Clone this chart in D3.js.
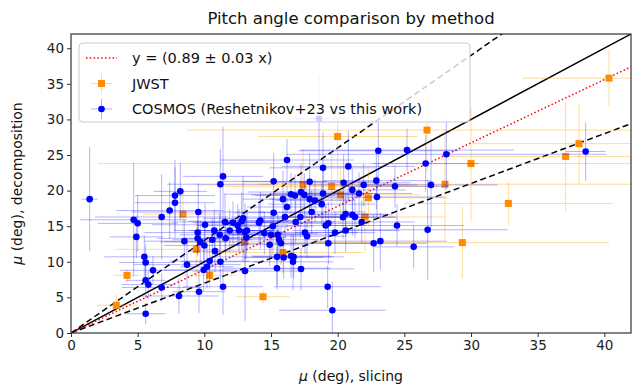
<!DOCTYPE html>
<html>
<head>
<meta charset="utf-8">
<script src="https://cdn.jsdelivr.net/npm/d3@7"></script>
<style>
  html, body { margin: 0; padding: 0; background: #fff; }
  svg { display: block; font-family: "DejaVu Sans", sans-serif; }
</style>
</head>
<body>
<svg id="chart" width="638" height="392"></svg>
<script>
// COSMOS sample: slicing vs decomposition pitch angles (deg) and their uncertainties
const cosmosX = [1.4, 4.7, 5.0, 4.9, 5.5, 5.6, 6.15, 5.6, 5.8, 5.6, 6.8, 8.1, 6.8, 7.4, 7.8, 7.8, 8.2, 8.5, 8.7, 9.55,
  9.5, 9.5, 9.6, 11.4, 11.2, 16.2, 15.2, 15.9, 16.5, 16.8, 17.25, 16.2, 16.05, 15.2, 16.85, 17.2, 11.55, 12.15, 12.5, 12.8,
  12.9, 12.6, 13.05, 13.2, 13.15, 14.1, 14.2, 14.5, 14.9, 15.15, 15.5, 15.6, 15.0, 15.75, 15.45, 15.95, 15.45, 16.5, 16.7, 16.65,
  17.25, 13.05, 11.2, 10.4, 10.2, 9.95, 10.05, 10.75, 10.6, 9.7, 10.0, 10.8, 11.15, 11.4, 11.9, 11.6, 23.05, 25.2, 20.8, 18.9,
  17.9, 20.45, 21.1, 21.95, 22.9, 21.6, 22.95, 24.3, 17.5, 18.9, 18.8, 18.3, 17.9, 18.05, 17.55, 17.7, 19.3, 19.1, 19.3, 19.8,
  20.4, 20.6, 20.6, 21.1, 21.3, 21.8, 22.7, 23.2, 24.45, 19.25, 19.6, 18.6, 28.15, 26.6, 27.0, 26.75, 25.7, 38.6];
const cosmosY = [18.8, 15.9, 15.4, 13.5, 10.7, 9.9, 8.8, 7.4, 6.8, 2.7, 6.4, 5.2, 16.3, 17.2, 18.3, 19.3, 19.9, 12.9, 9.6, 17.0,
  14.1, 13.3, 5.8, 22.0, 20.9, 24.3, 21.3, 18.8, 19.5, 19.3, 19.8, 17.7, 16.3, 16.9, 15.6, 16.3, 15.6, 15.5, 15.1, 15.7,
  16.1, 14.4, 14.2, 14.4, 13.4, 15.5, 15.8, 14.0, 12.4, 15.0, 13.8, 13.1, 13.8, 12.6, 10.7, 10.6, 9.1, 10.8, 10.7, 10.0,
  9.0, 8.7, 10.0, 10.1, 9.3, 8.85, 15.2, 14.4, 13.1, 12.8, 12.3, 11.5, 13.8, 6.5, 14.4, 13.3, 25.6, 25.7, 23.4, 23.2,
  21.25, 21.1, 20.1, 20.8, 21.4, 19.6, 19.1, 20.6, 19.4, 19.6, 18.1, 18.6, 18.8, 17.0, 14.1, 13.6, 12.6, 15.1, 15.4, 14.1,
  16.25, 16.7, 14.4, 16.6, 16.3, 15.6, 12.6, 12.9, 15.1, 6.5, 3.2, 30.1, 25.1, 23.8, 20.8, 14.5, 12.1, 25.5];
const cosmosXerr = [0.6, 4, 3, 2, 3, 2, 2.5, 1.5, 2, 1.5, 3, 3, 5, 4, 3, 3, 2, 3, 4, 5,
  4, 3, 2, 3, 4, 5, 4, 3, 5, 3, 4, 3, 4, 3, 3, 3, 4, 3, 3, 4,
  3, 3, 3, 2, 3, 4, 3, 4, 3, 3, 4, 3, 3, 3, 5, 3, 4, 3, 3, 3,
  4, 4, 3, 3, 2, 3, 4, 3, 3, 3, 3, 2, 3, 3, 3, 3, 6, 8, 5, 4,
  5, 5, 4, 4, 4, 4, 5, 4, 4, 4, 4, 3, 3, 4, 4, 3, 4, 3, 3, 3,
  4, 3, 4, 3, 3, 4, 4, 5, 5, 4, 4, 2, 12, 4, 5, 6, 3, 1.5];
const cosmosYerr = [7.3, 8, 4, 3, 3, 2.5, 2, 2.5, 2, 1.5, 2, 2.5, 6, 4, 5, 5, 4, 3, 3, 4,
  3, 2.5, 3, 7, 5, 3, 4, 4, 3, 3, 4, 3, 3, 3, 3, 3, 4, 3, 3, 4,
  6, 3, 4, 3, 3, 3, 4, 3, 3, 4, 3, 3, 3, 3, 4, 3, 3, 3, 3, 4,
  3, 7, 3, 3, 3, 3, 3, 3, 3, 3, 3, 3, 3, 4, 3, 3, 5, 3, 5, 5,
  4, 4, 3, 3, 4, 3, 3, 3, 3, 4, 3, 3, 3, 3, 3, 3, 3, 3, 3, 3,
  3, 3, 3, 3, 3, 3, 4, 4, 3, 3, 4, 6, 5, 4, 6, 7, 3, 4.1];

// JWST sample
const jwstX = [3.4, 4.2, 8.4, 9.4, 10.4, 13.05, 14.4, 15.9, 17.4, 20.0, 19.55, 20.2, 22.3, 22.05, 26.7, 30.0, 28.05, 32.8, 29.35, 40.35, 38.1, 37.1];
const jwstY = [3.9, 8.1, 16.7, 11.75, 8.1, 12.8, 5.1, 11.3, 20.8, 27.6, 20.6, 19.4, 19.0, 16.3, 28.5, 23.8, 20.9, 18.2, 12.7, 35.8, 26.6, 24.8];
const jwstXerr = [1.5, 1, 3, 6, 2, 6, 2, 6, 8, 6, 8, 6, 6, 6, 18, 28, 14, 7.8, 11, 6.5, 8, 9];
const jwstYerr = [1.5, 1, 3, 4, 2, 4, 1, 3, 5, 6, 5, 4, 4, 5, 6, 8, 7.7, 3, 5, 4, 5.7, 7.7];

// Reference slopes: one-to-one, ±30% band, and the fitted relation
const refSlopes = [1.0, 1.3, 0.7];
const fitSlope = 0.89;
const fitLabel = "y = (0.89 ± 0.03 x)";

const xTicks = [0, 5, 10, 15, 20, 25, 30, 35, 40];
const yTicks = [0, 5, 10, 15, 20, 25, 30, 35, 40];
const axisMax = 42;

const svg = d3.select("#chart");
const m = { left: 71, right: 631, top: 34, bottom: 333 };

const x = d3.scaleLinear().domain([0, axisMax]).range([m.left, m.right]);
const y = d3.scaleLinear().domain([0, axisMax]).range([m.bottom, m.top]);

svg.append("defs").append("clipPath").attr("id", "plotclip")
  .append("rect").attr("x", m.left).attr("y", m.top)
  .attr("width", m.right - m.left).attr("height", m.bottom - m.top);

const plot = svg.append("g").attr("clip-path", "url(#plotclip)");

// Reference lines
const line = d3.line().x(d => x(d[0])).y(d => y(d[1]));
refSlopes.forEach((s, i) => {
  plot.append("path")
    .attr("d", line([[0, 0], [axisMax, s * axisMax]]))
    .attr("fill", "none").attr("stroke", "#000").attr("stroke-width", 1.5)
    .attr("stroke-dasharray", i === 0 ? null : "6,3.5");
});
plot.append("path")
  .attr("d", line([[0, 0], [axisMax, fitSlope * axisMax]]))
  .attr("fill", "none").attr("stroke", "red").attr("stroke-width", 1.5)
  .attr("stroke-dasharray", "1.5,2.3");

// Error bars and markers for one sample
function drawSample(xs, ys, xe, ye, errColor, errOpacity, markerFn) {
  const g = plot.append("g");
  const eg = g.append("g").attr("stroke", errColor).attr("stroke-opacity", errOpacity).attr("stroke-width", 1);
  xs.forEach((xv, i) => {
    eg.append("line").attr("x1", x(xv - xe[i])).attr("x2", x(xv + xe[i]))
      .attr("y1", y(ys[i])).attr("y2", y(ys[i]));
    eg.append("line").attr("x1", x(xv)).attr("x2", x(xv))
      .attr("y1", y(ys[i] - ye[i])).attr("y2", y(ys[i] + ye[i]));
  });
  const mg = g.append("g");
  xs.forEach((xv, i) => markerFn(mg, x(xv), y(ys[i])));
}

const squareMarker = (g, cx, cy) => g.append("rect")
  .attr("x", cx - 3.5).attr("y", cy - 3.5).attr("width", 7).attr("height", 7)
  .attr("fill", "#ff8c00");
const circleMarker = (g, cx, cy) => g.append("circle")
  .attr("cx", cx).attr("cy", cy).attr("r", 3.3).attr("fill", "#0000ff");

drawSample(jwstX, jwstY, jwstXerr, jwstYerr, "#ffa500", 0.4, squareMarker);
drawSample(cosmosX, cosmosY, cosmosXerr, cosmosYerr, "#0000ff", 0.3, circleMarker);

// Axes
const xAxis = d3.axisBottom(x).tickValues(xTicks).tickSize(4).tickPadding(3).tickFormat(d3.format("d"));
const yAxis = d3.axisLeft(y).tickValues(yTicks).tickSize(4).tickPadding(3).tickFormat(d3.format("d"));

const gx = svg.append("g").attr("transform", `translate(0,${m.bottom})`).call(xAxis);
const gy = svg.append("g").attr("transform", `translate(${m.left},0)`).call(yAxis);
[gx, gy].forEach(g => {
  g.select(".domain").remove();
  g.selectAll(".tick line").attr("stroke", "#333");
  g.selectAll(".tick text").attr("font-size", 13.5).attr("fill", "#222")
    .attr("font-family", "DejaVu Sans, sans-serif");
});

svg.append("rect").attr("x", m.left).attr("y", m.top)
  .attr("width", m.right - m.left).attr("height", m.bottom - m.top)
  .attr("fill", "none").attr("stroke", "#333").attr("stroke-width", 1.2);

// Title and axis labels
svg.append("text").attr("x", (m.left + m.right) / 2).attr("y", 24)
  .attr("text-anchor", "middle").attr("font-size", 16.5).attr("fill", "#111")
  .text("Pitch angle comparison by method");

const xl = svg.append("text").attr("x", (m.left + m.right) / 2).attr("y", 381)
  .attr("text-anchor", "middle").attr("font-size", 14).attr("fill", "#111");
xl.append("tspan").attr("font-style", "italic").text("μ");
xl.append("tspan").text(" (deg), slicing");

const yl = svg.append("text")
  .attr("transform", `translate(22,${(m.top + m.bottom) / 2}) rotate(-90)`)
  .attr("text-anchor", "middle").attr("font-size", 14).attr("fill", "#111");
yl.append("tspan").attr("font-style", "italic").text("μ");
yl.append("tspan").text(" (deg), decomposition");

// Legend
const lg = svg.append("g");
lg.append("rect").attr("x", 79).attr("y", 43).attr("width", 391).attr("height", 79)
  .attr("rx", 4).attr("fill", "#fff").attr("fill-opacity", 0.8)
  .attr("stroke", "#ccc").attr("stroke-width", 1);

const legendRows = [
  { label: fitLabel, kind: "fit", cy: 58 },
  { label: "JWST", kind: "jwst", cy: 83.5 },
  { label: "COSMOS (Reshetnikov+23 vs this work)", kind: "cosmos", cy: 109 }
];
legendRows.forEach(r => {
  if (r.kind === "fit") {
    lg.append("line").attr("x1", 86).attr("x2", 117).attr("y1", r.cy).attr("y2", r.cy)
      .attr("stroke", "red").attr("stroke-width", 1.5).attr("stroke-dasharray", "1.5,2.3");
  } else {
    const c = r.kind === "jwst" ? "#ffa500" : "#0000ff";
    const op = r.kind === "jwst" ? 0.4 : 0.3;
    lg.append("line").attr("x1", 91).attr("x2", 112).attr("y1", r.cy).attr("y2", r.cy)
      .attr("stroke", c).attr("stroke-opacity", op);
    lg.append("line").attr("x1", 101.5).attr("x2", 101.5).attr("y1", r.cy - 10).attr("y2", r.cy + 10)
      .attr("stroke", c).attr("stroke-opacity", op);
    if (r.kind === "jwst") squareMarker(lg, 101.5, r.cy);
    else circleMarker(lg, 101.5, r.cy);
  }
  lg.append("text").attr("x", 132).attr("y", r.cy).attr("dy", "0.35em")
    .attr("font-size", 14.5).attr("fill", "#111").text(r.label);
});
</script>
</body>
</html>
